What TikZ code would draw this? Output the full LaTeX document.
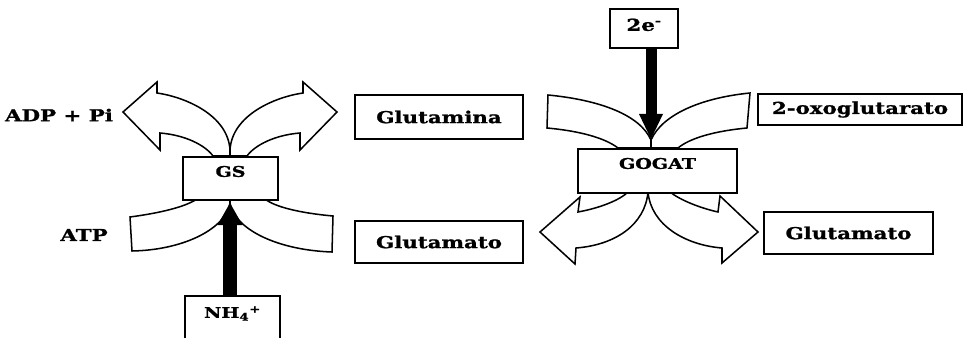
\documentclass[tikz,border=0pt]{standalone}
\usepackage{fontspec}
\setmainfont{DejaVu Serif}[FakeStretch=1.3, BoldFeatures={FakeBold=1.2}]
\usetikzlibrary{arrows.meta, positioning}
\tikzset{
  box/.style={draw, line width=1.4pt, fill=white, inner sep=0pt, font=\bfseries\fontsize{14}{16}\selectfont},
  enzyme/.style={box, font=\bfseries\fontsize{12.5}{14}\selectfont},
  lbl/.style={inner sep=0pt, font=\bfseries\fontsize{14}{16}\selectfont},
  band/.style={draw, line width=1.3pt, fill=white, line join=miter},
  heavy/.style={line width=0.42cm, -{Triangle[width=0.75cm,length=0.66cm,line width=0pt]}},
}
\begin{document}
\begin{tikzpicture}[x=0.03cm, y=-0.03cm]
    \useasboundingbox (0,0) rectangle (967,338);
    \clip (0,0) rectangle (967,338);
    % GS: curved bands
    \path[band] (230,156) -- (230,150) .. controls (228,115) and (185,97) .. (157,93) -- (157,82) -- (123,112) -- (160,150) -- (160,133) .. controls (185,135) and (205,145) .. (213,156) -- cycle;
    \path[band] (230,156) -- (230,150) .. controls (232,115) and (275,97) .. (303,93) -- (303,82) -- (337,112) -- (300,150) -- (300,133) .. controls (275,135) and (255,145) .. (247,156) -- cycle;
    \path[band] (230,199) -- (230,203) .. controls (226,228) and (185,250) .. (132,251) -- (130,217) .. controls (160,213) and (185,207) .. (197,199) -- cycle;
    \path[band] (230,199) -- (230,203) .. controls (234,228) and (275,250) .. (332,252) -- (333,216) .. controls (300,213) and (275,207) .. (265,199) -- cycle;
    % GOGAT: curved bands
    \path[band] (651,148) -- (651,140) .. controls (640,115) and (600,100) .. (548,95) -- (547,128) .. controls (580,131) and (605,138) .. (618,148) -- cycle;
    \path[band] (651,148) -- (651,140) .. controls (662,115) and (700,98) .. (750,93) -- (747,128) .. controls (715,131) and (690,138) .. (678,148) -- cycle;
    \path[band] (648,192) .. controls (645,225) and (615,245) .. (576,248) -- (575,264) -- (540,232) -- (580,197) -- (578,212) .. controls (600,208) and (620,200) .. (628,192) -- cycle;
    \path[band] (648,192) .. controls (651,225) and (685,245) .. (722,248) -- (722,263) -- (758,232) -- (720,196) -- (718,212) .. controls (700,208) and (680,200) .. (670,192) -- cycle;
    % boxes
    \node[enzyme, anchor=north, minimum width=2.85cm, text height=0.6cm, text depth=0.69cm] (gs) at (230.5,156) {GS};
    \node[enzyme, anchor=north, minimum width=4.77cm, text height=0.6cm, text depth=0.72cm] (gogat) at (657.5,148) {GOGAT};
    \node[box, anchor=north, minimum width=2.04cm, text height=0.66cm, text depth=0.51cm] (two) at (644,8) {2e\textsuperscript{-}};
    \node[enzyme, anchor=north, minimum width=2.85cm, text height=0.66cm, text depth=0.81cm] (nh4) at (232.5,295) {NH\textsubscript{4}\textsuperscript{+}};
    \node[box, minimum width=5.04cm, minimum height=1.32cm] (glutamina) at (439,117) {Glutamina};
    \node[box, minimum width=5.04cm, minimum height=1.26cm] (glutamatoA) at (439,242) {Glutamato};
    \node[box, minimum width=6.12cm, minimum height=0.93cm] (oxo) at (860,109.5) {2-oxoglutarato};
    \node[box, minimum width=5.07cm, minimum height=1.26cm] (glutamatoB) at (848.5,233) {Glutamato};
    \node[lbl] (adp) at (59,115) {ADP + Pi};
    \node[lbl] (atp) at (84,235) {ATP};
    % heavy arrows
    \coordinate (tipgs) at (230,203);
    \coordinate (tipgogat) at (651,139);
    \draw[heavy] (nh4.north -| tipgs) -- (tipgs);
    \draw[heavy, line width=0.33cm, -{Triangle[width=0.72cm,length=0.75cm,line width=0pt]}] (two.south -| tipgogat) -- (tipgogat);
\end{tikzpicture}
\end{document}
